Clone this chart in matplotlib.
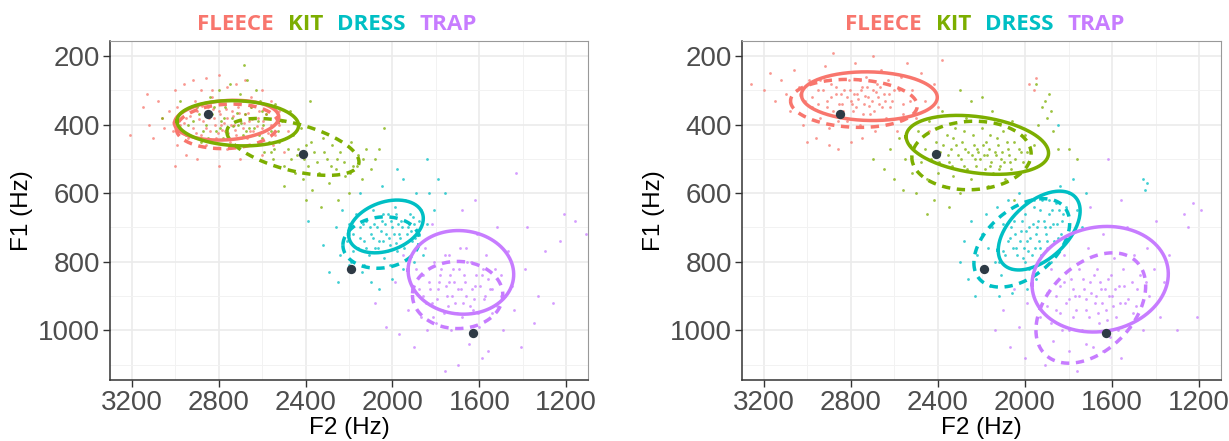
import numpy as np
import matplotlib
matplotlib.use("Agg")
import matplotlib.pyplot as plt

plt.rcParams["font.family"] = ["Liberation Sans", "DejaVu Sans"]

vowels = ["FLEECE", "KIT", "DRESS", "TRAP"]
colors = ["#F8766D", "#7CAE00", "#00BFC4", "#C77CFF"]

# reference means (black dots), same in both panels
ref_f2 = [2850, 2410, 2190, 1630]
ref_f1 = [368, 486, 820, 1007]

# token clouds, (F2, F1) -- left panel
left_fleece = [(3210, 430), (3130, 310), (3100, 440), (3080, 330), (3050, 410), (3030, 360), (3000, 300),
               (2990, 460), (2960, 280), (2950, 490), (2920, 270), (2880, 300), (2860, 265), (2830, 300),
               (2800, 255), (2760, 290), (2720, 280), (2680, 270), (2650, 320), (2600, 300), (2560, 330),
               (2520, 360), (2480, 420), (2500, 480), (2550, 460), (2600, 490), (2700, 500), (2800, 520),
               (2900, 500), (3000, 520), (2950, 380), (2920, 410), (2900, 360), (2880, 430), (2870, 390),
               (2850, 350), (2840, 420), (2820, 380), (2810, 440), (2800, 360), (2790, 400), (2780, 340),
               (2770, 420), (2760, 380), (2750, 450), (2740, 360), (2730, 400), (2720, 430), (2710, 350),
               (2700, 390), (2690, 410), (2680, 370), (2670, 440), (2660, 390), (2650, 350), (2640, 420),
               (2620, 380), (2600, 410), (2580, 370), (2560, 400), (2940, 440), (2910, 330), (2860, 460),
               (2830, 320), (2760, 470), (2690, 330), (2630, 460), (2980, 400), (3010, 420), (2540, 430),
               (2960, 395), (2930, 375), (2905, 425), (2890, 385), (2875, 345), (2860, 410), (2845, 380),
               (2835, 450), (2825, 355), (2815, 400), (2805, 425), (2795, 370), (2785, 415), (2775, 395),
               (2765, 355), (2755, 425), (2745, 400), (2735, 375), (2725, 415), (2715, 390), (2705, 365),
               (2695, 440), (2685, 395), (2665, 365), (2655, 420), (2645, 385), (2625, 405), (2615, 360),
               (2595, 390), (2575, 425), (3060, 380), (3120, 400), (3150, 350), (2520, 400), (2990, 350)]
left_kit = [(3060, 380), (2980, 330), (2950, 430), (2920, 390), (2900, 350), (2880, 450), (2860, 400),
            (2840, 320), (2830, 370), (2810, 420), (2800, 300), (2790, 390), (2780, 440), (2770, 350),
            (2760, 410), (2750, 280), (2740, 380), (2730, 460), (2720, 340), (2710, 400), (2700, 310),
            (2690, 430), (2685, 225), (2680, 370), (2670, 270), (2660, 410), (2650, 350), (2640, 460),
            (2630, 300), (2620, 390), (2610, 330), (2600, 440), (2590, 480), (2580, 370), (2560, 420),
            (2550, 500), (2540, 340), (2520, 450), (2510, 390), (2500, 520), (2480, 470), (2470, 360),
            (2460, 430), (2450, 540), (2440, 490), (2420, 410), (2410, 560), (2400, 460), (2390, 520),
            (2380, 330), (2370, 590), (2360, 480), (2340, 540), (2320, 440), (2300, 500), (2290, 570),
            (2280, 460), (2260, 530), (2250, 620), (2240, 480), (2220, 550), (2200, 600), (2190, 450),
            (2180, 520), (2160, 490), (2140, 560), (2120, 470), (2100, 530), (2080, 500), (2060, 470),
            (2040, 410), (2400, 620), (2330, 640), (2500, 580),
            (2940, 400), (2890, 370), (2870, 420), (2850, 440), (2820, 350), (2795, 410), (2775, 380),
            (2755, 440), (2735, 405), (2715, 365), (2695, 395), (2675, 420), (2655, 380), (2635, 410),
            (2615, 430), (2595, 400), (2570, 450), (2545, 470), (2525, 420), (2490, 440), (2465, 500),
            (2435, 470), (2405, 500), (2375, 450), (2345, 510), (2315, 480), (2285, 520), (2255, 500),
            (2225, 510), (2195, 540), (2165, 520), (2135, 500), (2990, 420), (2600, 360), (2560, 480)]
left_dress = [(2390, 680), (2320, 750), (2290, 830), (2260, 700), (2240, 780), (2230, 650), (2210, 740),
              (2200, 690), (2190, 800), (2180, 720), (2170, 660), (2160, 760), (2150, 700), (2140, 830),
              (2130, 740), (2120, 680), (2110, 780), (2100, 720), (2090, 650), (2080, 760), (2070, 700),
              (2060, 740), (2050, 680), (2040, 790), (2030, 720), (2020, 660), (2010, 750), (2000, 700),
              (1990, 640), (1980, 770), (1970, 720), (1960, 680), (1950, 750), (1940, 620), (1930, 700),
              (1920, 660), (1910, 740), (1900, 690), (1890, 600), (1880, 720), (1870, 650), (1860, 780),
              (1840, 690), (1830, 600), (1810, 650), (1790, 560), (1760, 600), (1840, 500), (1950, 560),
              (2050, 580), (2100, 860), (2000, 850), (1950, 820), (2250, 860), (2150, 600), (1980, 530),
              (2060, 880), (1900, 800), (1870, 840),
              (2150, 730), (2135, 690), (2120, 760), (2105, 700), (2090, 730), (2075, 670), (2065, 760),
              (2055, 710), (2045, 740), (2035, 690), (2025, 770), (2015, 730), (2005, 680), (1995, 720),
              (1985, 745), (1975, 690), (1965, 730), (1955, 700), (1945, 760), (1935, 720), (1925, 690),
              (1915, 710), (1905, 670), (1895, 730), (2085, 690), (2045, 660), (1985, 660), (2180, 770),
              (2200, 810), (2130, 810), (2010, 810), (1880, 680)]
left_trap = [(2080, 920), (2030, 990), (1990, 860), (1970, 1010), (1950, 780), (1930, 940), (1910, 880),
             (1900, 1050), (1890, 820), (1870, 960), (1860, 900), (1850, 760), (1840, 1000), (1830, 860),
             (1820, 920), (1810, 800), (1800, 980), (1790, 880), (1780, 840), (1770, 940), (1760, 1120),
             (1760, 780), (1750, 900), (1740, 860), (1730, 1000), (1720, 820), (1710, 920), (1700, 880),
             (1690, 760), (1680, 960), (1670, 840), (1660, 900), (1650, 1040), (1640, 800), (1630, 940),
             (1620, 870), (1610, 720), (1600, 990), (1590, 840), (1580, 910), (1570, 780), (1560, 1060),
             (1550, 880), (1540, 950), (1530, 820), (1520, 700), (1500, 900), (1490, 1000), (1470, 770),
             (1450, 870), (1440, 940), (1430, 540), (1410, 1050), (1390, 820), (1380, 700), (1350, 980),
             (1330, 900), (1300, 770), (1260, 920), (1230, 740), (1210, 660), (1160, 680), (1110, 720),
             (1680, 650), (1620, 620), (1820, 690), (1590, 1080), (1700, 1100),
             (1880, 880), (1860, 840), (1845, 920), (1825, 880), (1815, 960), (1795, 910), (1785, 860),
             (1775, 820), (1765, 950), (1755, 870), (1745, 930), (1735, 840), (1725, 900), (1715, 860),
             (1705, 950), (1695, 820), (1685, 880), (1675, 920), (1665, 860), (1655, 800), (1645, 930),
             (1635, 880), (1625, 910), (1615, 840), (1605, 950), (1595, 870), (1585, 820), (1575, 900),
             (1560, 850), (1540, 880), (1520, 930), (1500, 840), (1480, 900), (1740, 780), (1660, 760)]

# right panel
right_fleece = [(3260, 280), (3200, 300), (3170, 250), (3150, 330), (3120, 270), (3100, 310), (3080, 360),
                (3060, 240), (3040, 290), (3020, 400), (3010, 330), (2990, 270), (2980, 350), (2960, 440),
                (2950, 300), (2940, 380), (2920, 230), (2910, 330), (2900, 410), (2890, 280), (2880, 360),
                (2870, 310), (2860, 470), (2850, 250), (2840, 340), (2830, 300), (2820, 390), (2810, 270),
                (2800, 330), (2790, 360), (2780, 220), (2770, 310), (2760, 400), (2750, 290), (2740, 340),
                (2730, 260), (2720, 320), (2710, 370), (2700, 300), (2690, 420), (2680, 280), (2670, 340),
                (2660, 240), (2650, 310), (2640, 380), (2630, 270), (2620, 350), (2600, 300), (2590, 420),
                (2570, 260), (2560, 340), (2540, 220), (2520, 300), (2500, 380), (2480, 250), (2460, 330),
                (2440, 420), (2420, 280), (2400, 350), (2380, 210), (2900, 460), (2800, 450), (3000, 450),
                (2700, 200), (2880, 190), (2750, 440), (2550, 440), (1980, 280), (1960, 300), (1950, 265),
                (2980, 320), (2950, 340), (2930, 300), (2910, 350), (2890, 320), (2870, 290), (2855, 340),
                (2845, 310), (2835, 360), (2820, 320), (2805, 300), (2795, 340), (2785, 310), (2775, 350),
                (2765, 325), (2755, 300), (2745, 370), (2735, 315), (2725, 290), (2715, 345), (2705, 330),
                (2695, 360), (2685, 305), (2675, 320), (2665, 290), (2655, 350), (2645, 330), (2625, 310),
                (2610, 330), (2580, 300), (2560, 370), (2530, 330), (2940, 270), (2860, 390), (2760, 270)]
right_kit = [(2700, 500), (2650, 530), (2620, 470), (2600, 560), (2580, 440), (2560, 590), (2550, 500),
             (2530, 460), (2520, 540), (2500, 600), (2490, 420), (2480, 510), (2460, 470), (2450, 560),
             (2440, 390), (2430, 500), (2420, 620), (2410, 450), (2400, 540), (2390, 480), (2380, 360),
             (2370, 580), (2360, 430), (2350, 510), (2340, 470), (2330, 550), (2320, 410), (2310, 490),
             (2300, 600), (2290, 450), (2280, 520), (2270, 380), (2260, 480), (2250, 560), (2240, 430),
             (2230, 500), (2220, 470), (2210, 540), (2200, 410), (2190, 490), (2180, 450), (2170, 580),
             (2160, 520), (2150, 360), (2140, 480), (2130, 440), (2120, 530), (2110, 500), (2100, 420),
             (2090, 560), (2080, 470), (2070, 510), (2060, 390), (2050, 450), (2040, 540), (2020, 480),
             (2000, 430), (1980, 510), (1960, 460), (1940, 400), (1920, 350), (1910, 330), (1900, 380),
             (1890, 310), (1880, 360), (1870, 420), (1850, 470), (1800, 470), (1760, 500), (2250, 330),
             (2300, 300), (2200, 320), (2350, 640), (2450, 660), (2050, 620), (1950, 280),
             (2420, 480), (2395, 510), (2375, 460), (2355, 490), (2335, 520), (2315, 460), (2295, 500),
             (2275, 470), (2265, 530), (2245, 490), (2235, 460), (2225, 520), (2215, 480), (2205, 500),
             (2195, 460), (2185, 530), (2175, 490), (2165, 470), (2155, 510), (2145, 540), (2135, 490),
             (2125, 460), (2115, 520), (2105, 480), (2095, 510), (2085, 450), (2075, 490), (2065, 530),
             (2045, 500), (2030, 470), (2010, 510), (1990, 480), (2330, 440), (2280, 420), (2160, 430)]
right_dress = [(2300, 800), (2280, 740), (2260, 850), (2250, 680), (2230, 900), (2220, 780), (2200, 720),
               (2190, 830), (2180, 660), (2170, 760), (2160, 870), (2150, 700), (2140, 800), (2130, 640),
               (2120, 740), (2110, 840), (2100, 690), (2090, 780), (2080, 620), (2070, 730), (2060, 820),
               (2050, 680), (2040, 760), (2030, 600), (2020, 710), (2010, 790), (2000, 660), (1990, 740),
               (1980, 700), (1970, 780), (1960, 640), (1950, 720), (1940, 680), (1930, 760), (1920, 620),
               (1910, 700), (1900, 740), (1890, 660), (1880, 800), (1870, 690), (1860, 630), (1850, 730),
               (1840, 580), (1830, 680), (1810, 640), (1800, 600), (1780, 560), (1760, 650), (1740, 700),
               (1720, 600), (1850, 400), (1460, 560), (1450, 590), (1440, 570), (1990, 880), (2060, 890),
               (1950, 850), (2120, 900),
               (2080, 740), (2065, 700), (2055, 760), (2045, 720), (2035, 780), (2025, 740), (2015, 680),
               (2005, 760), (1995, 710), (1985, 770), (1975, 730), (1965, 690), (1955, 760), (1945, 700),
               (1935, 740), (1925, 780), (1915, 680), (1905, 720), (1895, 760), (1885, 700), (1875, 650),
               (1865, 740), (1855, 690), (1845, 650), (1835, 720), (1825, 660), (1960, 620), (1930, 650),
               (1890, 620), (2000, 800), (1980, 820), (2100, 770), (2120, 800)]
right_trap = [(2140, 1000), (2100, 940), (2070, 1050), (2050, 880), (2030, 990), (2000, 1080), (1990, 920),
              (1970, 850), (1950, 1010), (1930, 960), (1910, 1100), (1900, 890), (1880, 820), (1870, 1030),
              (1860, 940), (1840, 870), (1830, 1000), (1820, 780), (1810, 920), (1800, 1060), (1790, 850),
              (1780, 960), (1770, 900), (1760, 1120), (1750, 820), (1740, 1000), (1730, 880), (1720, 940),
              (1710, 760), (1700, 860), (1690, 1050), (1680, 920), (1670, 820), (1660, 980), (1650, 880),
              (1640, 720), (1630, 940), (1620, 850), (1610, 1020), (1600, 900), (1590, 790), (1580, 960),
              (1570, 870), (1560, 1080), (1550, 820), (1540, 920), (1530, 700), (1520, 990), (1510, 860),
              (1500, 780), (1490, 930), (1470, 840), (1460, 1000), (1440, 760), (1430, 900), (1410, 820),
              (1400, 680), (1380, 960), (1360, 860), (1340, 780), (1300, 1000), (1270, 660), (1250, 700),
              (1230, 630), (1210, 960), (1190, 650), (1620, 500), (1700, 640), (1770, 610), (1560, 620),
              (1900, 760),
              (1900, 930), (1880, 980), (1860, 900), (1840, 950), (1820, 860), (1800, 910), (1780, 880),
              (1765, 940), (1750, 900), (1735, 850), (1720, 910), (1705, 960), (1695, 890), (1685, 840),
              (1675, 900), (1665, 950), (1655, 860), (1645, 920), (1635, 880), (1625, 970), (1615, 900),
              (1605, 840), (1595, 930), (1585, 880), (1575, 1000), (1565, 920), (1545, 870), (1525, 910),
              (1505, 950), (1485, 880), (1465, 920), (1445, 860), (1720, 1040), (1640, 1060), (1800, 1000)]

# ellipses: centre F2, centre F1, half-range F2, half-range F1, correlation
left_solid = [(2763, 387, 240, 58, 0.15), (2712, 396, 280, 66, -0.1),
              (2030, 697, 172, 77, 0.3), (1685, 831, 243, 122, -0.05)]
left_dashed = [(2760, 405, 235, 65, 0.1), (2458, 465, 304, 83, -0.53),
               (2052, 744, 176, 75, 0.1), (1700, 897, 208, 98, 0.0)]
right_solid = [(2715, 317, 312, 71, -0.05), (2219, 459, 327, 86, -0.28),
               (1935, 709, 188, 115, 0.5), (1655, 851, 313, 154, 0.1)]
right_dashed = [(2786, 338, 291, 70, -0.1), (2246, 490, 274, 100, 0.05),
                (2015, 745, 220, 129, 0.45), (1698, 935, 252, 161, 0.4)]


def ellipse_xy(cx, cy, wx, wy, r, n=200):
    t = np.linspace(0, 2 * np.pi, n)
    x = cx + wx * np.cos(t)
    y = cy + wy * (r * np.cos(t) + np.sqrt(1 - r * r) * np.sin(t))
    return x, y


def draw_panel(ax, clouds, solid, dashed):
    for pts, c in zip(clouds, colors):
        pts = np.array(pts)
        ax.scatter(pts[:, 0], pts[:, 1], s=4, color=c, alpha=0.75, linewidths=0, zorder=2)
    for e, c in zip(dashed, colors):
        x, y = ellipse_xy(*e)
        ax.plot(x, y, color=c, lw=2.5, ls=(0, (2.4, 1.9)), zorder=3)
    for e, c in zip(solid, colors):
        x, y = ellipse_xy(*e)
        ax.plot(x, y, color=c, lw=2.5, zorder=4)
    ax.scatter(ref_f2, ref_f1, s=45, color="#2E3A45", zorder=5, linewidths=0)

    ax.set_xlim(3300, 1100)
    ax.set_ylim(1145, 156)
    ax.set_xticks([3200, 2800, 2400, 2000, 1600, 1200])
    ax.set_xticks([3000, 2600, 2200, 1800, 1400], minor=True)
    ax.set_yticks([200, 400, 600, 800, 1000])
    ax.set_yticks([300, 500, 700, 900, 1100], minor=True)
    ax.grid(which="major", color="#EBEBEB", lw=1.2, zorder=0)
    ax.grid(which="minor", color="#F2F2F2", lw=0.7, zorder=0)
    ax.set_axisbelow(True)
    ax.tick_params(which="major", labelsize=20, labelcolor="#4D4D4D", color="#333333",
                   length=5, width=1, pad=2)
    ax.tick_params(which="minor", length=0)
    for s in ["left", "bottom"]:
        ax.spines[s].set_color("#333333")
        ax.spines[s].set_linewidth(1.1)
    for s in ["top", "right"]:
        ax.spines[s].set_color("#999999")
        ax.spines[s].set_linewidth(0.8)
    ax.set_xlabel("F2 (Hz)", fontsize=17.5, labelpad=1)
    ax.set_ylabel("F1 (Hz)", fontsize=17.5, labelpad=4)


fig = plt.figure(figsize=(12.29, 4.41), dpi=100)
W, H = 1229, 441
ax1 = fig.add_axes([110 / W, 61 / H, 478 / W, 339 / H])
ax2 = fig.add_axes([742 / W, 61 / H, 479 / W, 339 / H])

draw_panel(ax1, [left_fleece, left_kit, left_dress, left_trap], left_solid, left_dashed)
draw_panel(ax2, [right_fleece, right_kit, right_dress, right_trap], right_solid, right_dashed)

# coloured legend words above each panel; font size chosen so FLEECE is ~77 px wide
fig.canvas.draw()
renderer = fig.canvas.get_renderer()
title_font = ["Open Sans", "DejaVu Sans"]
probe = fig.text(0, 0, "FLEECE", fontsize=20, fontweight="bold", family=title_font)
fsize = 20 * 77 / probe.get_window_extent(renderer).width
probe.remove()
for x0 in [197, 845]:
    x = x0
    for name, c in zip(vowels, colors):
        t = fig.text(x / W, 1 - 25 / H, name, color=c, fontsize=fsize, fontweight="bold",
                     family=title_font, ha="left", va="center")
        bb = t.get_window_extent(renderer)
        x += bb.width + 14

fig.savefig("out.png", dpi=100)
